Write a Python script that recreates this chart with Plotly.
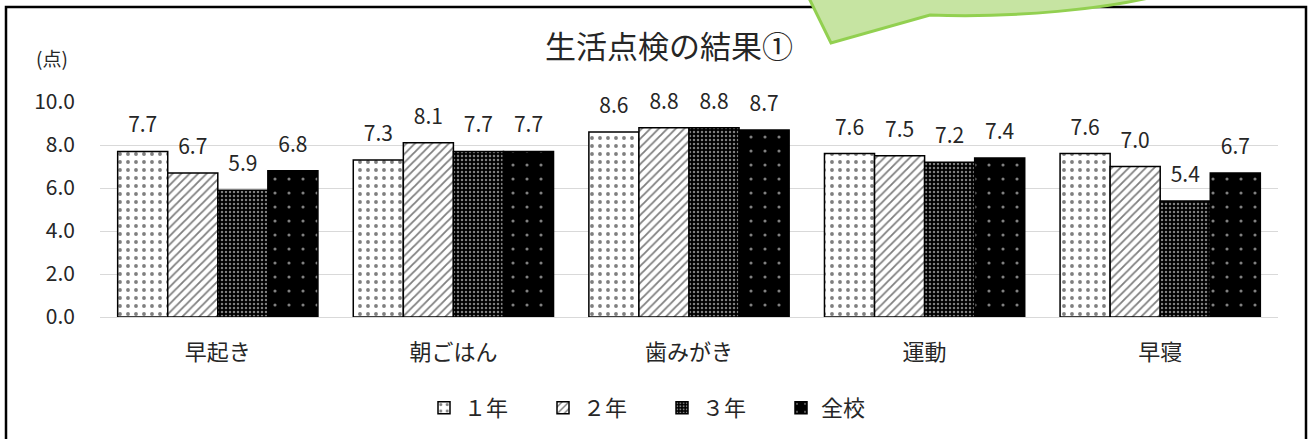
import plotly.graph_objects as go

categories = ["早起き", "朝ごはん", "歯みがき", "運動", "早寝"]
series_names = ["１年", "２年", "３年", "全校"]
grade1 = [7.7, 7.3, 8.6, 7.6, 7.6]
grade2 = [6.7, 8.1, 8.8, 7.5, 7.0]
grade3 = [5.9, 7.7, 8.8, 7.2, 5.4]
school = [6.8, 7.7, 8.7, 7.4, 6.7]
y_ticks = [0, 2, 4, 6, 8, 10]
title_text = "生活点検の結果①"
unit_text = "(点)"

OFF = 0  # body margin removed by post_script
W, H = 1309, 439
L, T = 100 - OFF, 102 - OFF
R = W - (1278 - OFF)
B = H - (317 - OFF)
PW, PH = W - L - R, H - T - B

def px(s):
    return (s - OFF - L) / PW

def py(s):
    return (H - B - (s - OFF)) / PH

FONT = "Noto Sans CJK JP"
TXT = "#262626"

patterns = [
    dict(shape=".", bgcolor="white", fgcolor="black", size=8, solidity=0.18),
    dict(shape="/", bgcolor="white", fgcolor="black", size=6, solidity=0.3),
    dict(shape=".", bgcolor="black", fgcolor="white", size=4, solidity=0.3),
    dict(shape=".", bgcolor="black", fgcolor="white", size=14, solidity=0.04),
]
values = [grade1, grade2, grade3, school]

fig = go.Figure()
for name, vals, pat in zip(series_names, values, patterns):
    fig.add_trace(go.Bar(
        name=name, x=categories, y=vals,
        marker=dict(color=pat["bgcolor"], pattern=pat, line=dict(color="black", width=1.5)),
        texttemplate="<span style='font-size:21px'>%{y:.1f}</span><br> ",
        textposition="outside", cliponaxis=False,
        textfont=dict(family=FONT, size=10, color=TXT),
    ))

bubble = (
    f"M {px(805)} {py(-10)} L {px(831)} {py(43)} L {px(930)} {py(15)} "
    f"C {px(1010)} {py(18)} {px(1110)} {py(10)} {px(1172)} {py(-8)} "
    f"L {px(1172)} {py(-60)} L {px(805)} {py(-60)} Z"
)

fig.update_layout(
    width=W, height=H,
    margin=dict(l=L, r=R, t=T, b=B, autoexpand=False),
    paper_bgcolor="white", plot_bgcolor="white",
    barmode="group", bargap=0.15, bargroupgap=0,
    font=dict(family=FONT, color=TXT),
    title=dict(text=title_text, x=(669 - OFF) / W, xanchor="center",
               y=1 - (47 - OFF) / H, yanchor="middle",
               font=dict(family=FONT, size=31, color=TXT)),
    xaxis=dict(showgrid=False, showline=False, ticks="", ticklabelstandoff=20,
               tickfont=dict(family=FONT, size=22, color=TXT)),
    yaxis=dict(range=[0, 10], tickvals=y_ticks, tickformat=".1f", showgrid=True,
               gridcolor="#d9d9d9", gridwidth=1.3, zeroline=True, zerolinecolor="#d9d9d9",
               zerolinewidth=1.3, showline=False, ticks="", ticklabelstandoff=24,
               tickfont=dict(family=FONT, size=21, color=TXT)),
    legend=dict(orientation="h", x=px(662), xanchor="center", y=py(408), yanchor="middle",
                font=dict(family=FONT, size=22, color=TXT), itemwidth=30,
                traceorder="normal", entrywidth=74),
    showlegend=True,
    shapes=[
        dict(type="rect", xref="paper", yref="paper", x0=px(6), y0=py(470), x1=px(1306), y1=py(7),
             line=dict(color="black", width=2.5), fillcolor="rgba(0,0,0,0)", layer="above"),
        dict(type="path", xref="paper", yref="paper", path=bubble, fillcolor="#c6e4a2",
             line=dict(color="#92d050", width=3), layer="above"),
    ],
    annotations=[
        dict(text=unit_text, xref="paper", yref="paper", x=px(52), y=py(57), showarrow=False,
             xanchor="center", yanchor="middle", font=dict(family=FONT, size=19, color=TXT)),
    ],
)

fig.write_html(
    "out.html",
    config={"displayModeBar": False},
    post_script="document.body.style.margin='0px';document.body.style.padding='0px';",
)
